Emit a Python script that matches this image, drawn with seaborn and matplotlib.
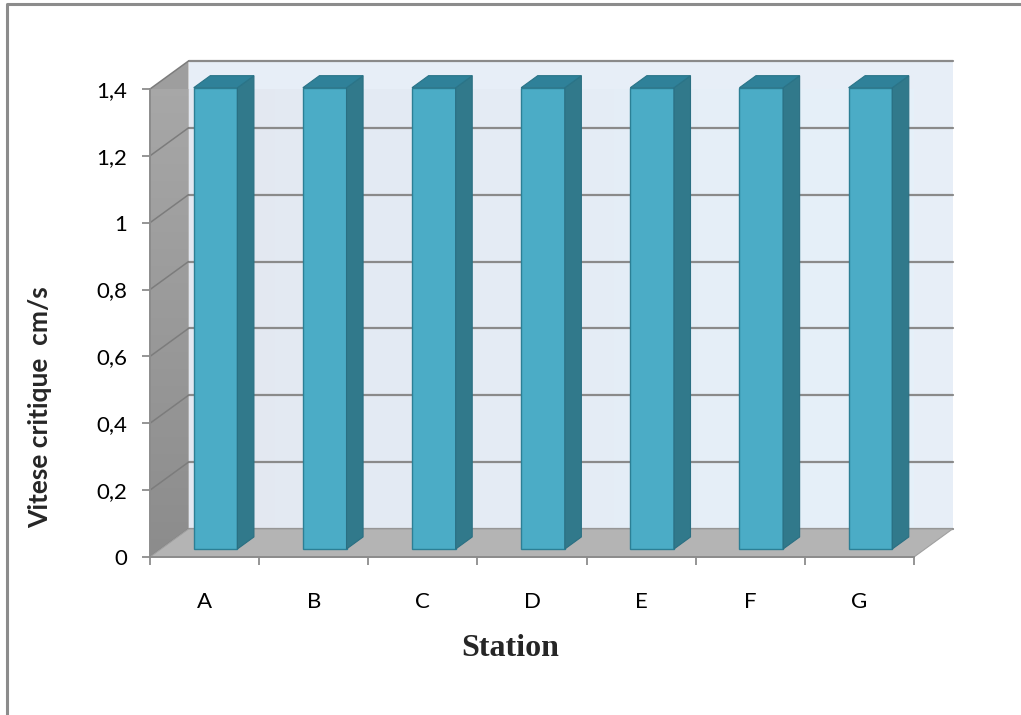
import numpy as np
import pandas as pd
import matplotlib
matplotlib.use("Agg")
import matplotlib.pyplot as plt
import seaborn as sns
from matplotlib.patches import Polygon
from matplotlib.lines import Line2D
from matplotlib.transforms import Affine2D

# ---- data ----
stations = ["A", "B", "C", "D", "E", "F", "G"]
vitesse = [1.38, 1.38, 1.38, 1.38, 1.38, 1.38, 1.38]
y_ticks = [0.0, 0.2, 0.4, 0.6, 0.8, 1.0, 1.2, 1.4]
y_tick_labels = ["0", "0,2", "0,4", "0,6", "0,8", "1", "1,2", "1,4"]

sns.set_theme(style="white")
plt.rcParams["font.family"] = ["Lato", "DejaVu Sans"]

W, H = 1021, 715
fig = plt.figure(figsize=(W / 100, H / 100), dpi=100)
fig.patch.set_facecolor("white")
# axes = front plane of the 3-D box
ax = fig.add_axes([150 / W, 1 - 557 / H, 764 / W, 468 / H])
ax.set_facecolor("none")

df = pd.DataFrame({"Station": stations, "Vitesse": vitesse})
sns.barplot(data=df, x="Station", y="Vitesse", width=0.4, color="#4bacc6",
            saturation=1, edgecolor="#2c7f95", linewidth=1.0, ax=ax, zorder=4)
bars = list(ax.containers[0])

XMIN, XMAX = -0.5, len(stations) - 0.5
YMAX = y_ticks[-1]
ax.set_xlim(XMIN, XMAX)
ax.set_ylim(0, YMAX)

# depth of the box in data units (projection offset)
px_x = 764 / len(stations)
px_y = 468 / YMAX
DX = 38.5 / px_x
DY = 28.0 / px_y

def poly(pts, **kw):
    p = Polygon(pts, closed=True, clip_on=False, **kw)
    ax.add_patch(p)
    return p

def gradient(patch, c0, c1, extent, horizontal=False, z=0):
    n = 256
    t = np.linspace(0, 1, n)
    a = np.array(matplotlib.colors.to_rgb(c0))
    b = np.array(matplotlib.colors.to_rgb(c1))
    cols = a[None, :] * (1 - t[:, None]) + b[None, :] * t[:, None]
    img = cols[None, :, :] if horizontal else cols[:, None, :]
    im = ax.imshow(img, extent=extent, origin="lower", aspect="auto",
                   zorder=z, clip_on=True, interpolation="bilinear")
    im.set_clip_path(patch)

# back wall
back = poly([(XMIN + DX, DY), (XMAX + DX, DY), (XMAX + DX, YMAX + DY), (XMIN + DX, YMAX + DY)],
            fc="#e7eef7", ec="none", zorder=0)
gradient(back, "#e3e8f1", "#e6f1fa", (XMIN + DX, XMAX + DX, DY, YMAX + DY), horizontal=True, z=0.1)

# side wall
side = poly([(XMIN, 0), (XMIN + DX, DY), (XMIN + DX, YMAX + DY), (XMIN, YMAX)],
            fc="#9e9e9e", ec="none", zorder=0.2)
gradient(side, "#8c8c8c", "#a9a9a9", (XMIN, XMIN + DX, 0, YMAX + DY), z=0.3)

# gridlines on back and side walls
for yv in y_ticks:
    ax.add_line(Line2D([XMIN + DX, XMAX + DX], [yv + DY, yv + DY], color="#8a8a8a",
                       lw=1.6, zorder=1, clip_on=False))
    ax.add_line(Line2D([XMIN, XMIN + DX], [yv, yv + DY], color="#7c7c7c",
                       lw=1.1, zorder=1, clip_on=False))

# floor
poly([(XMIN, 0), (XMAX, 0), (XMAX + DX, DY), (XMIN + DX, DY)],
     fc="#b4b4b4", ec="#a0a0a0", lw=0.8, zorder=2)

# 3-D faces of the bars
b0 = 0.285   # front face position within the depth
bd = 0.43    # bar depth fraction
bdx, bdy = bd * DX, bd * DY
shift = Affine2D().translate(b0 * DX, b0 * DY) + ax.transData
for p in bars:
    p.set_transform(shift)
    p.set_clip_on(False)
    x0, w, h = p.get_x(), p.get_width(), p.get_height()
    side_face = Polygon([(x0 + w, 0), (x0 + w + bdx, bdy), (x0 + w + bdx, h + bdy), (x0 + w, h)],
                        closed=True, fc="#31798b", ec="#2a6f82", lw=0.8, zorder=4,
                        clip_on=False, transform=shift)
    top_face = Polygon([(x0, h), (x0 + bdx, h + bdy), (x0 + w + bdx, h + bdy), (x0 + w, h)],
                       closed=True, fc="#2f8199", ec="#2a7488", lw=0.8, zorder=4,
                       clip_on=False, transform=shift)
    ax.add_patch(side_face)
    ax.add_patch(top_face)

# axes lines, ticks
sns.despine(ax=ax, top=True, right=True)
for s in ("left", "bottom"):
    ax.spines[s].set_color("#8c8c8c")
    ax.spines[s].set_linewidth(1.4)
    ax.spines[s].set_zorder(5)

ax.set_yticks(y_ticks, y_tick_labels)
ax.tick_params(axis="y", left=True, length=5.5, width=1.3, color="#8c8c8c",
               pad=11, labelsize=16, labelcolor="black", direction="out")
ax.set_xticks(range(len(stations)), stations)
ax.tick_params(axis="x", which="major", bottom=True, length=0, pad=25,
               labelsize=16, labelcolor="black")
ax.set_xticks(np.arange(XMIN, XMAX + 0.01, 1), minor=True)
ax.tick_params(axis="x", which="minor", bottom=True, length=6, width=1.3,
               color="#8c8c8c", direction="out")

ax.set_xlabel("Station", fontsize=23, fontweight="bold", family="Liberation Serif")
ax.xaxis.set_label_coords((510 - 150) / 764, (557 - 649) / 468)
ax.xaxis.label.set_verticalalignment("center")
ax.set_ylabel("Vitese critique  cm/s", fontsize=19, fontweight="bold")
ax.yaxis.set_label_coords((40 - 150) / 764, (557 - 407) / 468)
ax.yaxis.label.set_verticalalignment("center")

# chart-area frame
fig.add_artist(Line2D([7 / W, 7 / W, 1.0], [0.0, 1 - 4 / H, 1 - 4 / H],
                      transform=fig.transFigure, color="#8c8c8c", lw=2.2))

fig.savefig("out.png", dpi=100, facecolor="white")
